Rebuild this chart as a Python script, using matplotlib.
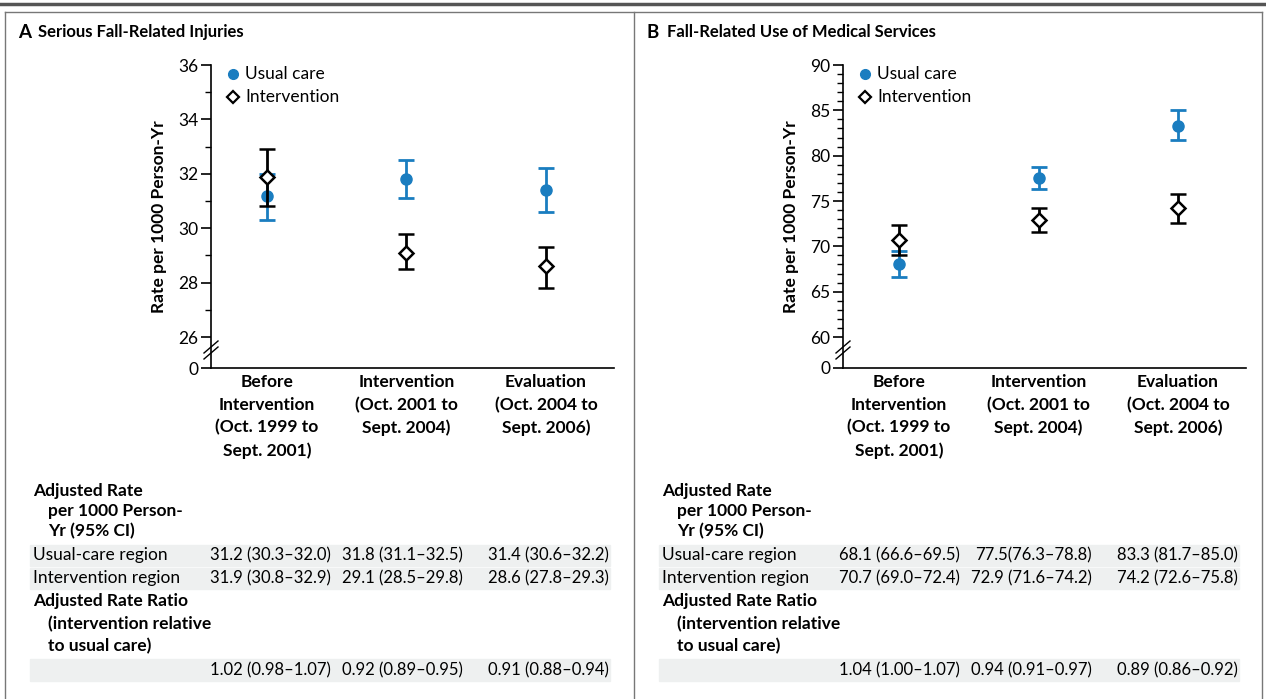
import matplotlib
matplotlib.use("Agg")
import matplotlib.pyplot as plt
from matplotlib.lines import Line2D
from matplotlib.patches import Rectangle

W, H = 1266, 699
FONT = "Lato"
plt.rcParams['font.family'] = [FONT, 'DejaVu Sans']
FS = 12.5
FSN = 12

categories = ["Before\nIntervention\n(Oct. 1999 to\nSept. 2001)",
              "Intervention\n(Oct. 2001 to\nSept. 2004)",
              "Evaluation\n(Oct. 2004 to\nSept. 2006)"]

# Panel A
a_usual = [31.2, 31.8, 31.4]
a_usual_lo = [30.3, 31.1, 30.6]
a_usual_hi = [32.0, 32.5, 32.2]
a_int = [31.9, 29.1, 28.6]
a_int_lo = [30.8, 28.5, 27.8]
a_int_hi = [32.9, 29.8, 29.3]
a_ratio = ["1.02 (0.98–1.07)", "0.92 (0.89–0.95)", "0.91 (0.88–0.94)"]

# Panel B
b_usual = [68.1, 77.5, 83.3]
b_usual_lo = [66.6, 76.3, 81.7]
b_usual_hi = [69.5, 78.8, 85.0]
b_int = [70.7, 72.9, 74.2]
b_int_lo = [69.0, 71.6, 72.6]
b_int_hi = [72.4, 74.2, 75.8]
b_ratio = ["1.04 (1.00–1.07)", "0.94 (0.91–0.97)", "0.89 (0.86–0.92)"]
b_usual_txt = ["68.1 (66.6–69.5)", "77.5(76.3–78.8)", "83.3 (81.7–85.0)"]

BLUE = "#1a7dc0"

fig = plt.figure(figsize=(W/100, H/100), dpi=100)

def fx(x): return x / W
def fy(y): return 1 - y / H

fig.add_artist(Line2D([fx(0), fx(W)], [fy(4), fy(4)], color="#555555", lw=2.5))
fig.add_artist(Line2D([fx(5), fx(W-4)], [fy(12), fy(12)], color="#777777", lw=1))
for xx in [5, 634, W-4]:
    fig.add_artist(Line2D([fx(xx), fx(xx)], [fy(12), fy(H)], color="#777777", lw=1))

def fmt(v, lo, hi):
    return f"{v:.1f} ({lo:.1f}–{hi:.1f})"

def panel(ox, letter, title, usual, ulo, uhi, inter, ilo, ihi, ratio, utxt,
          ylo, yhi, y0pos, ymin_major, step, spine_x, cat_x0, end_x):
    fig.text(fx(ox+13), fy(32), letter, fontsize=13.5, fontweight="bold", va="center")
    fig.text(fx(ox+33), fy(32), title, fontsize=12, fontweight="bold", va="center")
    top, bot = 65, 368
    ax = fig.add_axes([fx(spine_x), fy(bot), fx(end_x-spine_x), (bot-top)/H])
    ppu = 139.5
    ax.set_xlim(-(cat_x0-spine_x)/ppu, (end_x-cat_x0)/ppu)
    ax.set_ylim(y0pos, yhi)
    xs = list(range(3))
    ax.errorbar(xs, usual, yerr=[[u-l for u, l in zip(usual, ulo)], [h-u for u, h in zip(usual, uhi)]],
                fmt="o", color=BLUE, ms=8, elinewidth=2, capsize=6, capthick=2, zorder=3)
    ax.errorbar(xs, inter, yerr=[[u-l for u, l in zip(inter, ilo)], [h-u for u, h in zip(inter, ihi)]],
                fmt="D", color="black", mfc="white", mec="black", mew=1.8, ms=7,
                elinewidth=2, capsize=6, capthick=2, zorder=4)
    for s in ["top", "right"]:
        ax.spines[s].set_visible(False)
    ax.spines["left"].set_linewidth(1.2)
    ax.spines["bottom"].set_linewidth(1.2)
    majors = list(range(ymin_major, int(yhi)+1, step))
    ax.set_yticks([y0pos] + majors)
    ax.set_yticklabels(["0"] + [str(m) for m in majors], fontsize=FS)
    ax.set_yticks(list(range(ymin_major, int(yhi)+1)), minor=True)
    ax.tick_params(axis="y", which="major", length=7, width=1.2, pad=2)
    ax.tick_params(axis="y", which="minor", length=4, width=1)
    ax.set_xticks([])
    ax.set_ylabel("Rate per 1000 Person-Yr", fontsize=FS, fontweight="bold", labelpad=8)
    for dy in (-3, 3):
        fig.add_artist(Line2D([fx(spine_x-7), fx(spine_x+7)], [fy(356+dy), fy(344+dy)], color="black", lw=1))
    lx = spine_x + 22
    fig.add_artist(Line2D([fx(lx)], [fy(74)], marker="o", color=BLUE, ms=7, ls=""))
    fig.add_artist(Line2D([fx(lx)], [fy(97)], marker="D", mfc="white", mec="black", mew=1.6, ms=6, ls=""))
    fig.text(fx(lx+12), fy(74), "Usual care", fontsize=FS, va="center")
    fig.text(fx(lx+12), fy(97), "Intervention", fontsize=FS, va="center")
    for i, c in enumerate(categories):
        fig.text(fx(cat_x0 + i*ppu), fy(374), c, fontsize=FS, fontweight="bold",
                 ha="center", va="top", linespacing=1.5)
    tl = ox + 25
    tr = ox + 605
    for y1, y2 in [(545, 566), (568, 589), (659, 681)]:
        fig.add_artist(Rectangle((fx(tl), fy(y2)), fx(tr-tl), (y2-y1)/H, color="#eef0f0", zorder=0))
    fig.text(fx(tl+3), fy(491), "Adjusted Rate", fontsize=FS, fontweight="bold", va="center")
    fig.text(fx(tl+18), fy(511), "per 1000 Person-", fontsize=FS, fontweight="bold", va="center")
    fig.text(fx(tl+18), fy(531), "Yr (95% CI)", fontsize=FS, fontweight="bold", va="center")
    fig.text(fx(tl+3), fy(555), "Usual-care region", fontsize=FS, va="center")
    fig.text(fx(tl+3), fy(578), "Intervention region", fontsize=FS, va="center")
    fig.text(fx(tl+3), fy(601), "Adjusted Rate Ratio", fontsize=FS, fontweight="bold", va="center")
    fig.text(fx(tl+18), fy(624), "(intervention relative", fontsize=FS, fontweight="bold", va="center")
    fig.text(fx(tl+18), fy(646), "to usual care)", fontsize=FS, fontweight="bold", va="center")
    col_r = [ox + 326, ox + 458, ox + 604]
    for i in range(3):
        fig.text(fx(col_r[i]), fy(555), utxt[i], fontsize=FSN, ha="right", va="center")
        fig.text(fx(col_r[i]), fy(578), fmt(inter[i], ilo[i], ihi[i]), fontsize=FSN, ha="right", va="center")
        fig.text(fx(col_r[i]), fy(670), ratio[i], fontsize=FSN, ha="right", va="center")

a_txt = [fmt(a_usual[i], a_usual_lo[i], a_usual_hi[i]) for i in range(3)]
panel(5, "A", "Serious Fall-Related Injuries", a_usual, a_usual_lo, a_usual_hi,
      a_int, a_int_lo, a_int_hi, a_ratio, a_txt,
      26, 36, 26 - 31/27.2, 26, 2, 211, 267, 614)
panel(634, "B", "Fall-Related Use of Medical Services", b_usual, b_usual_lo, b_usual_hi,
      b_int, b_int_lo, b_int_hi, b_ratio, b_usual_txt,
      60, 90, 60 - 31/9.067, 60, 5, 843, 899, 1246)

fig.savefig("out.png", dpi=100)
